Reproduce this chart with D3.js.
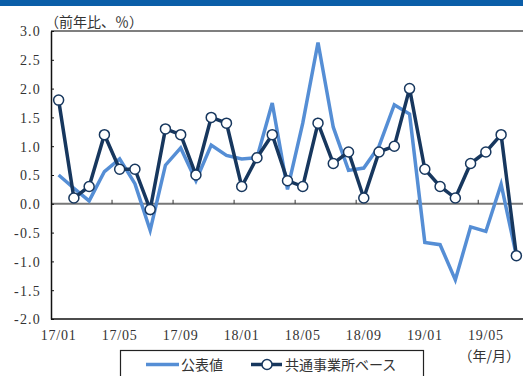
<!DOCTYPE html>
<html>
<head>
<meta charset="utf-8">
<script src="https://cdn.jsdelivr.net/npm/d3@7"></script>
<style>
  html, body { margin: 0; padding: 0; background: #fff; }
  svg { display: block; }
</style>
</head>
<body>
<svg id="chart" width="523" height="376"></svg>
<script>
// Monthly categories, 2017/01 – 2019/07
const months = [
  "17/01","17/02","17/03","17/04","17/05","17/06","17/07","17/08","17/09","17/10","17/11","17/12",
  "18/01","18/02","18/03","18/04","18/05","18/06","18/07","18/08","18/09","18/10","18/11","18/12",
  "19/01","19/02","19/03","19/04","19/05","19/06","19/07"
];

// 公表値 (published figures, y/y %)
const published = [
  0.50, 0.27, 0.05, 0.56, 0.78, 0.35, -0.46, 0.67, 0.97, 0.40, 1.02, 0.84,
  0.78, 0.80, 1.75, 0.25, 1.40, 2.80, 1.33, 0.58, 0.62, 1.00, 1.72, 1.56,
  -0.67, -0.71, -1.32, -0.40, -0.48, 0.34, -0.90
];

// 共通事業所ベース (common-establishment basis, y/y %)
const commonBase = [
  1.8, 0.1, 0.3, 1.2, 0.6, 0.6, -0.1, 1.3, 1.2, 0.5, 1.5, 1.4,
  0.3, 0.8, 1.2, 0.4, 0.3, 1.4, 0.7, 0.9, 0.1, 0.9, 1.0, 2.0,
  0.6, 0.3, 0.1, 0.7, 0.9, 1.2, -0.9
];

const yTicks = [-2.0, -1.5, -1.0, -0.5, 0.0, 0.5, 1.0, 1.5, 2.0, 2.5, 3.0];
const xLabels = ["17/01","17/05","17/09","18/01","18/05","18/09","19/01","19/05"];
const seriesNames = ["公表値", "共通事業所ベース"];

const colors = { published: "#558ed5", common: "#17375e", band: "#0b5ea8" };
const numFont = "'Liberation Serif', 'DejaVu Serif', serif";
const jpFont = "'Noto Sans CJK JP', 'Noto Sans', sans-serif";

const svg = d3.select("#chart");

// header band
svg.append("rect").attr("x", 0).attr("y", 0).attr("width", 523).attr("height", 6)
  .attr("fill", colors.band);

const plot = { left: 51, right: 524, top: 31, bottom: 319 };

const x = d3.scaleBand().domain(months).range([plot.left, plot.right]).padding(0);
const y = d3.scaleLinear().domain([-2, 3]).range([plot.bottom, plot.top]);
const cx = m => x(m) + x.bandwidth() / 2;

// top border
svg.append("line")
  .attr("x1", plot.left).attr("x2", 523)
  .attr("y1", y(3)).attr("y2", y(3))
  .attr("stroke", "#555").attr("stroke-width", 1.5);

// bottom border
svg.append("line")
  .attr("x1", plot.left).attr("x2", 523)
  .attr("y1", y(-2)).attr("y2", y(-2))
  .attr("stroke", "#111").attr("stroke-width", 1.5);

// zero line
svg.append("line")
  .attr("x1", plot.left).attr("x2", 523)
  .attr("y1", y(0)).attr("y2", y(0))
  .attr("stroke", "#777").attr("stroke-width", 2);

// category boundary ticks on the zero line, every four months
const boundaryTicks = months.filter((m, i) => i > 0 && i % 4 === 0);
svg.append("g").selectAll("line").data(boundaryTicks).join("line")
  .attr("x1", m => x(m)).attr("x2", m => x(m))
  .attr("y1", y(0)).attr("y2", y(0) - 4)
  .attr("stroke", "#333").attr("stroke-width", 1);

// y axis
const yAxis = d3.axisLeft(y).tickValues(yTicks).tickSize(0)
  .tickFormat(d => d3.format(".1f")(d).replace("−", "-"));
const gy = svg.append("g").attr("transform", `translate(${plot.left},0)`).call(yAxis);
gy.select(".domain").attr("stroke", "#111").attr("stroke-width", 1.5);
gy.selectAll(".tick text")
  .attr("x", -10).attr("dy", "0.35em")
  .attr("font-family", numFont).attr("font-size", 14)
  .attr("letter-spacing", "1.2px").attr("fill", "#333");
// inward tick marks
gy.selectAll(".tick").append("line")
  .attr("x1", 0).attr("x2", 3).attr("stroke", "#111").attr("stroke-width", 1);

// x labels
svg.append("g").selectAll("text").data(xLabels).join("text")
  .attr("x", m => cx(m)).attr("y", 339.5)
  .attr("text-anchor", "middle")
  .attr("font-family", numFont).attr("font-size", 14)
  .attr("letter-spacing", "0.8px").attr("fill", "#333")
  .text(d => d);

// unit labels
svg.append("text").attr("x", 45).attr("y", 27)
  .attr("font-family", jpFont).attr("font-size", 14).attr("fill", "#333")
  .text("（前年比、％）");
svg.append("text").attr("x", 520).attr("y", 360.5).attr("text-anchor", "end")
  .attr("font-family", jpFont).attr("font-size", 14).attr("fill", "#333")
  .text("（年/月）");

// series lines
const line = d3.line().x((d, i) => cx(months[i])).y(d => y(d));

svg.append("path").datum(published)
  .attr("d", line).attr("fill", "none")
  .attr("stroke", colors.published).attr("stroke-width", 3.5)
  .attr("stroke-linejoin", "miter");

svg.append("path").datum(commonBase)
  .attr("d", line).attr("fill", "none")
  .attr("stroke", colors.common).attr("stroke-width", 3.5)
  .attr("stroke-linejoin", "miter");

svg.append("g").selectAll("circle").data(commonBase).join("circle")
  .attr("cx", (d, i) => cx(months[i])).attr("cy", d => y(d))
  .attr("r", 5).attr("fill", "#fff")
  .attr("stroke", colors.common).attr("stroke-width", 1.5);

// legend
const lg = svg.append("g");
lg.append("rect").attr("x", 120.5).attr("y", 350.5).attr("width", 303).attr("height", 40)
  .attr("fill", "#fff").attr("stroke", "#222").attr("stroke-width", 1.2);
lg.append("line").attr("x1", 146).attr("x2", 179).attr("y1", 364.5).attr("y2", 364.5)
  .attr("stroke", colors.published).attr("stroke-width", 3.5);
lg.append("text").attr("x", 181).attr("y", 369.5)
  .attr("font-family", jpFont).attr("font-size", 14).attr("fill", "#333")
  .text(seriesNames[0]);
lg.append("line").attr("x1", 251).attr("x2", 282).attr("y1", 364.5).attr("y2", 364.5)
  .attr("stroke", colors.common).attr("stroke-width", 3.5);
lg.append("circle").attr("cx", 267).attr("cy", 364.5).attr("r", 5)
  .attr("fill", "#fff").attr("stroke", colors.common).attr("stroke-width", 1.5);
lg.append("text").attr("x", 285).attr("y", 369.5)
  .attr("font-family", jpFont).attr("font-size", 14).attr("fill", "#333")
  .text(seriesNames[1]);
</script>
</body>
</html>
